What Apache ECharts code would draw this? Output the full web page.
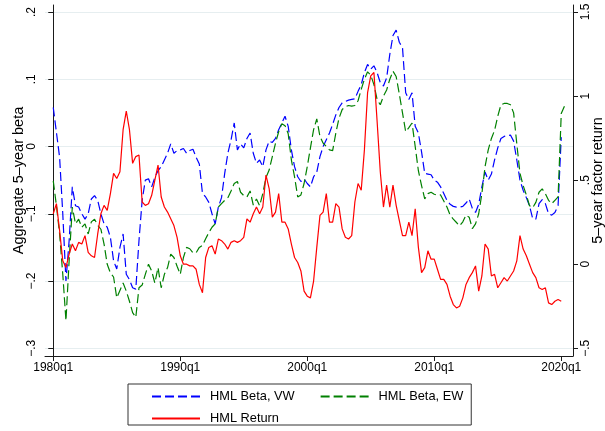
<!DOCTYPE html>
<html><head><meta charset="utf-8">
<script src="https://cdn.jsdelivr.net/npm/echarts@6/dist/echarts.min.js"></script>
<style>html,body{margin:0;padding:0;background:#fff}#c{width:605px;height:431px}</style>
</head><body><div id="c"></div>
<script>
// x positions are quarter indices counted from 1980q1
const xTickQuarters = [0, 40, 80, 120, 160];
const xTickLabels = ['1980q1', '1990q1', '2000q1', '2010q1', '2020q1'];
const leftTicks = [-0.3, -0.2, -0.1, 0, 0.1, 0.2];
const rightTicks = [-0.5, 0, 0.5, 1, 1.5];
const seriesNames = ['HML Beta, VW', 'HML Beta, EW', 'HML Return'];

const hmlBetaVW = [
  0.058, 0.021, -0.016, -0.10, -0.20, -0.14, -0.06, -0.088, -0.09, -0.10,
  -0.108, -0.10, -0.078, -0.073, -0.08, -0.10, -0.115, -0.12, -0.135, -0.17,
  -0.182, -0.15, -0.13, -0.19, -0.198, -0.21, -0.212, -0.14, -0.08, -0.05,
  -0.048, -0.06, -0.046, -0.036, -0.03, -0.02, -0.01, 0.004, -0.01, -0.006,
  -0.005, -0.003, -0.01, -0.006, -0.004, -0.016, -0.026, -0.07, -0.075, -0.083,
  -0.10, -0.115, -0.09, -0.076, -0.04, -0.01, 0.01, 0.035, -0.005, 0.004,
  -0.002, 0.012, 0.02, -0.01, -0.025, -0.02, -0.03, -0.005, 0.008, 0.006,
  0.012, 0.025, 0.035, 0.045, 0.03, -0.005, -0.03, -0.045, -0.052, -0.048,
  -0.055, -0.06, -0.045, -0.038, -0.015, 0.0, 0.01, 0.02, 0.033, 0.047,
  0.058, 0.065, 0.067, 0.069, 0.07, 0.071, 0.082, 0.092, 0.11, 0.122,
  0.115, 0.12, 0.11, 0.095, 0.09, 0.102, 0.137, 0.165, 0.173, 0.155,
  0.147, 0.08, 0.07, 0.08, 0.03, 0.02, -0.008, -0.04, -0.041, -0.042,
  -0.05, -0.053, -0.06, -0.07, -0.08, -0.086, -0.089, -0.09, -0.09, -0.089,
  -0.084, -0.078, -0.092, -0.098, -0.086, -0.06, -0.038, -0.05, -0.041, -0.02,
  -0.002, 0.012, 0.015, 0.016, 0.017, 0.008, -0.02, -0.05, -0.065, -0.076,
  -0.088, -0.107, -0.108, -0.085, -0.079, -0.085, -0.10, -0.102, -0.098, -0.088,
  0.014
];

const hmlBetaEW = [
  -0.051, -0.088, -0.13, -0.19, -0.259, -0.17, -0.09, -0.115, -0.108, -0.12,
  -0.115, -0.13, -0.112, -0.108, -0.117, -0.123, -0.145, -0.175, -0.188, -0.194,
  -0.225, -0.214, -0.203, -0.215, -0.23, -0.247, -0.254, -0.21, -0.206, -0.19,
  -0.175, -0.185, -0.203, -0.18, -0.21, -0.19, -0.18, -0.16, -0.165, -0.178,
  -0.19, -0.165, -0.15, -0.152, -0.158, -0.158, -0.15, -0.147, -0.137, -0.128,
  -0.12, -0.115, -0.09, -0.085, -0.08, -0.076, -0.066, -0.055, -0.052, -0.068,
  -0.073, -0.075, -0.066, -0.087, -0.078, -0.088, -0.07, -0.046, -0.035, -0.015,
  0.005, 0.022, 0.034, 0.031, 0.019, -0.02, -0.045, -0.075, -0.072, -0.055,
  -0.03, -0.002, 0.025, 0.041, 0.015, 0.005, 0.0, -0.005, -0.006, 0.02,
  0.042, 0.055, 0.059, 0.061, 0.06, 0.061, 0.068, 0.085, 0.10, 0.111,
  0.106, 0.092, 0.07, 0.062, 0.075, 0.084, 0.10, 0.112, 0.104, 0.078,
  0.05, 0.022, 0.028, 0.035, 0.0, -0.036, -0.058, -0.078, -0.07, -0.068,
  -0.071, -0.072, -0.072, -0.081, -0.09, -0.102, -0.108, -0.113, -0.118, -0.112,
  -0.102, -0.105, -0.122, -0.115, -0.10, -0.07, -0.03, -0.005, 0.012, 0.024,
  0.045, 0.062, 0.064, 0.064, 0.062, 0.05, 0.004, -0.04, -0.058, -0.072,
  -0.088, -0.091, -0.083, -0.068, -0.063, -0.07, -0.08, -0.085, -0.08, -0.075,
  0.049, 0.06
];

const hmlReturn = [
  0.30, 0.36, 0.20, 0.02, -0.02, 0.06, 0.12, 0.08, 0.13, 0.12,
  0.17, 0.07, 0.05, 0.04, 0.18, 0.30, 0.35, 0.32, 0.42, 0.54,
  0.51, 0.55, 0.80, 0.91, 0.80, 0.60, 0.64, 0.65, 0.37, 0.35,
  0.36, 0.41, 0.50, 0.59, 0.40, 0.34, 0.31, 0.27, 0.23, 0.16,
  0.05, 0.00, 0.00, -0.01, -0.01, -0.03, -0.12, -0.17, 0.04, 0.10,
  0.11, 0.06, 0.15, 0.14, 0.12, 0.09, 0.13, 0.14, 0.13, 0.14,
  0.16, 0.27, 0.25, 0.30, 0.34, 0.30, 0.34, 0.53, 0.45, 0.28,
  0.31, 0.42, 0.25, 0.25, 0.21, 0.12, 0.04, 0.01, -0.04, -0.16,
  -0.19, -0.20, -0.10, 0.10, 0.29, 0.31, 0.42, 0.25, 0.25, 0.36,
  0.34, 0.21, 0.16, 0.15, 0.17, 0.37, 0.48, 0.44, 0.68, 1.02,
  1.12, 1.14, 0.85, 0.55, 0.34, 0.47, 0.34, 0.47, 0.35, 0.26,
  0.17, 0.17, 0.25, 0.17, 0.33, 0.10, -0.05, -0.02, 0.08, 0.03,
  0.03, -0.03, -0.09, -0.09, -0.12, -0.19, -0.24, -0.26, -0.25, -0.20,
  -0.12, -0.08, -0.05, -0.01, -0.16, -0.07, 0.12, 0.09, -0.07, -0.06,
  -0.14, -0.11, -0.08, -0.10, -0.07, -0.04, 0.02, 0.17, 0.09, 0.05,
  0.00, -0.05, -0.08, -0.14, -0.15, -0.14, -0.23, -0.24, -0.22, -0.21,
  -0.22
];

const FONT = '"Liberation Sans", Arial, Helvetica, sans-serif';

function fmtTick(v) {
  const r = Math.round(v * 10) / 10;
  if (r === 0) return '0';
  let s = Math.abs(r).toString();
  if (s.startsWith('0.')) s = s.slice(1);
  return (r < 0 ? '\u2212' : '') + s;
}
function fmtX(v) {
  const i = xTickQuarters.indexOf(Math.round(v));
  return i >= 0 ? xTickLabels[i] : '';
}
const toPairs = arr => arr.map((v, i) => [i, v]);

const axisLineStyle = { color: '#1a1a1a', width: 1 };
const legendText = { fontSize: 12.8, fontFamily: FONT, color: '#000', padding: [0, 0, 0, 5] };
const chart = echarts.init(document.getElementById('c'), null, { renderer: 'canvas' });
chart.setOption({
  animation: false,
  backgroundColor: '#ffffff',
  grid: { left: 45, right: 32, top: 5, bottom: 75, containLabel: false, outerBoundsMode: 'none' },
  xAxis: {
    type: 'value', min: -2.6, max: 163.7,
    axisLine: { show: true, onZero: false, lineStyle: axisLineStyle },
    axisTick: { show: true, length: 5, customValues: xTickQuarters, lineStyle: axisLineStyle },
    axisLabel: { customValues: xTickQuarters, formatter: fmtX, margin: 6, fontSize: 12, fontFamily: FONT, color: '#000' },
    splitLine: { show: false }
  },
  yAxis: [
    {
      type: 'value', position: 'left', min: -0.31145, max: 0.2104,
      name: 'Aggregate 5\u2013year beta', nameLocation: 'middle', nameGap: 18.5,
      nameMoveOverlap: false,
      nameTextStyle: { fontSize: 14.5, fontFamily: FONT, color: '#000' },
      axisLine: { show: true, lineStyle: axisLineStyle },
      axisTick: { show: true, length: 5, customValues: leftTicks, lineStyle: axisLineStyle },
      axisLabel: { customValues: leftTicks, formatter: fmtTick, rotate: 90, margin: 7, fontSize: 12, fontFamily: FONT, color: '#000' },
      splitLine: { show: true, lineStyle: { color: '#e6eef0', width: 1 } }
    },
    {
      type: 'value', position: 'right', min: -0.5458, max: 1.5416,
      name: '5\u2013year factor return', nameLocation: 'middle', nameGap: 17.5,
      nameMoveOverlap: false,
      nameTextStyle: { fontSize: 14.5, fontFamily: FONT, color: '#000' },
      axisLine: { show: true, lineStyle: axisLineStyle },
      axisTick: { show: true, length: 5, customValues: rightTicks, lineStyle: axisLineStyle },
      axisLabel: { customValues: rightTicks, formatter: fmtTick, rotate: 90, margin: 7, fontSize: 12, fontFamily: FONT, color: '#000' },
      splitLine: { show: false }
    }
  ],
  legend: [
    {
      data: [seriesNames[0], seriesNames[1]],
      left: 128, top: 384, orient: 'horizontal',
      itemWidth: 48, itemHeight: 14, itemGap: 25,
      padding: [6, 8, 22, 23],
      borderColor: '#333', borderWidth: 1,
      itemStyle: { opacity: 0 },
      textStyle: legendText
    },
    {
      data: [seriesNames[2]],
      left: 151, top: 412, orient: 'horizontal',
      itemWidth: 48, itemHeight: 14,
      padding: 0,
      itemStyle: { opacity: 0 },
      textStyle: legendText
    }
  ],
  series: [
    {
      name: seriesNames[0], type: 'line', yAxisIndex: 0, data: toPairs(hmlBetaVW),
      symbol: 'none', color: '#0000ff',
      lineStyle: { color: '#0000ff', width: 1.2, type: [9, 4] }
    },
    {
      name: seriesNames[1], type: 'line', yAxisIndex: 0, data: toPairs(hmlBetaEW),
      symbol: 'none', color: '#008000',
      lineStyle: { color: '#008000', width: 1.2, type: [9, 4] }
    },
    {
      name: seriesNames[2], type: 'line', yAxisIndex: 1, data: toPairs(hmlReturn),
      symbol: 'none', color: '#ff0000',
      lineStyle: { color: '#ff0000', width: 1.2 }
    }
  ]
});
</script>
</body></html>
